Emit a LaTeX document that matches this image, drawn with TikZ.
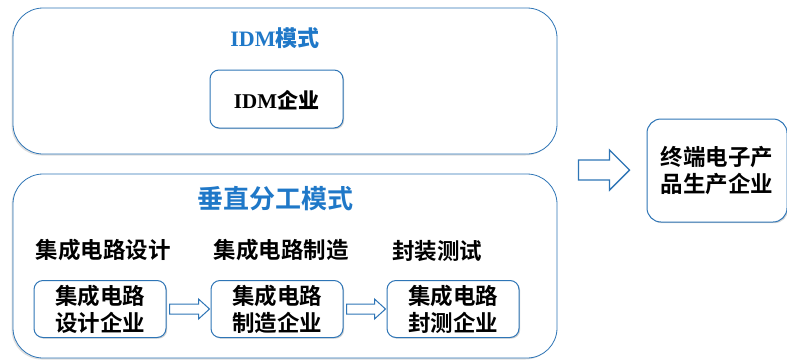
\documentclass[tikz,border=0pt]{standalone}
\usepackage{fontspec}
\setmainfont{Liberation Serif}
\newfontfamily\cjk{Noto Sans CJK SC Bold}
\usetikzlibrary{shadows,calc}
\definecolor{bl}{RGB}{46,117,182}
\definecolor{ttl}{RGB}{31,120,200}
\tikzset{
  panel/.style={draw=bl,line width=0.8pt,fill=white,rounded corners=30pt,
    drop shadow={shadow xshift=-1.5pt,shadow yshift=-1.5pt,opacity=0.25,fill=gray}},
  firm/.style={draw=bl,line width=1pt,fill=white,rounded corners=9pt,
    drop shadow={shadow xshift=1.2pt,shadow yshift=-1.2pt,opacity=0.35,fill=gray}},
  title/.style={text=ttl},
  lab/.style={font=\cjk\fontsize{22.5}{27}\selectfont},
  boxtxt/.style={font=\cjk\fontsize{22.5}{27}\selectfont,align=center},
  blk/.style={draw=bl,fill=white,line width=1pt,line join=miter},
}
\begin{document}
\begin{tikzpicture}[x=1pt,y=-1pt]
\useasboundingbox (0,0) rectangle (787,362);
% top panel
\path[panel] (13,8) rectangle (557,154);
\node[title,font=\bfseries\fontsize{22}{26}\selectfont] (t1) at (275,38) {IDM\cjk 模式};
\path[firm] (210,70) rectangle (343,128);
\node[font=\bfseries\fontsize{21}{26}\selectfont] (idm) at (276.5,100) {IDM\cjk 企业};
% bottom panel
\path[panel] (13,174) rectangle (557,358);
\node[title,font=\cjk\fontsize{26}{30}\selectfont] (t2) at (275,199) {垂直分工模式};
\node[lab] (l1) at (103,250) {集成电路设计};
\node[lab] (l2) at (281,250) {集成电路制造};
\node[lab] (l3) at (437,251) {封装测试};
\node[firm,boxtxt,minimum width=132pt,minimum height=57pt,inner sep=0pt] (b1) at (100,309) {集成电路\\设计企业};
\node[firm,boxtxt,minimum width=132pt,minimum height=57pt,inner sep=0pt] (b2) at (277,309) {集成电路\\制造企业};
\node[firm,boxtxt,minimum width=132pt,minimum height=57pt,inner sep=0pt] (b3) at (453,309) {集成电路\\封测企业};
% small block arrows
\foreach \s/\e in {b1/b2,b2/b3}{
  \draw[blk] ($(\s.east)+(3,-5)$) -- ($(\e.west)+(-12,-5)$) -- ($(\e.west)+(-12,-10)$)
    -- ($(\e.west)+(-1,0)$) -- ($(\e.west)+(-12,10)$) -- ($(\e.west)+(-12,5)$)
    -- ($(\s.east)+(3,5)$) -- cycle;
}
% right box
\node[firm,boxtxt,rounded corners=14pt,minimum width=140pt,minimum height=103pt,inner sep=0pt] (end) at (717,170.5) {终端电子产\\品生产企业};
% big block arrow
\draw[blk,line width=1.4pt] ($(end.west)+(-68,-10.5)$) -- ($(end.west)+(-37,-10.5)$) -- ($(end.west)+(-37,-20.5)$)
  -- ($(end.west)+(-17,-0.5)$) -- ($(end.west)+(-37,19.5)$) -- ($(end.west)+(-37,9.5)$)
  -- ($(end.west)+(-68,9.5)$) -- cycle;
\end{tikzpicture}
\end{document}
